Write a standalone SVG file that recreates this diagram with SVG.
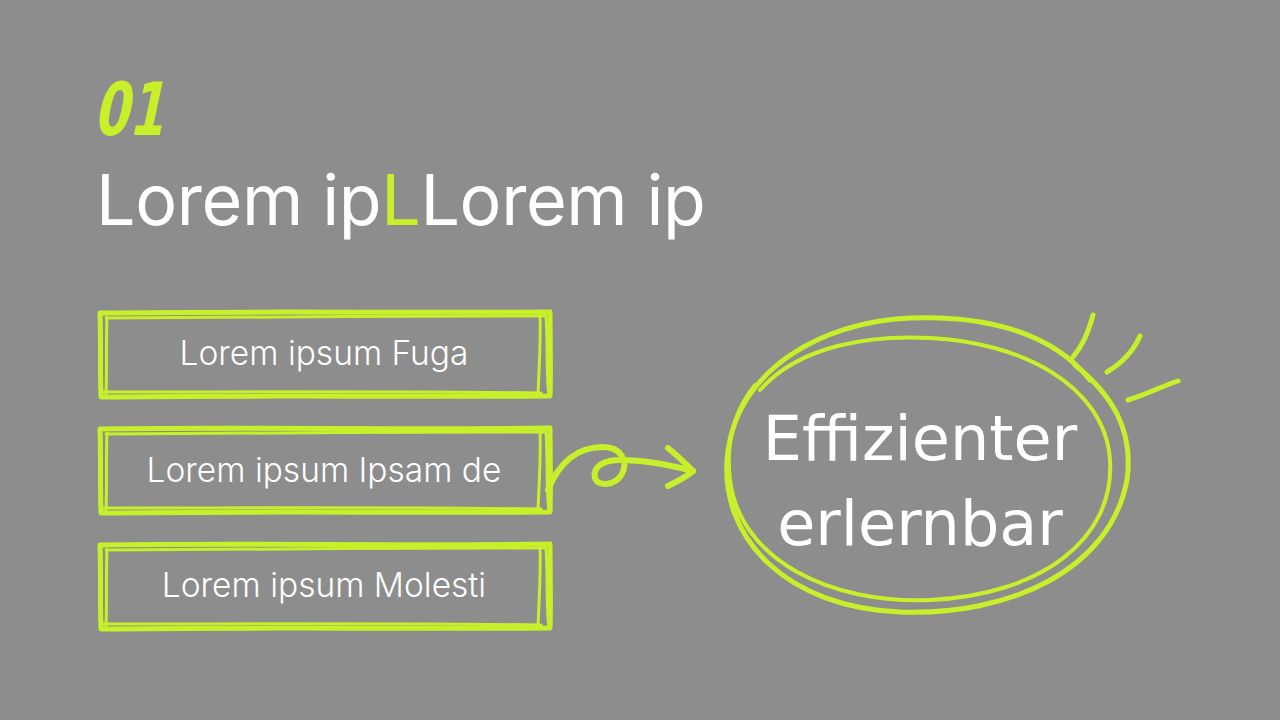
<svg xmlns="http://www.w3.org/2000/svg" width="1280" height="720" viewBox="0 0 1280 720">
<style>
.sk{fill:none;stroke:#c8f02a;stroke-linecap:round;stroke-linejoin:round}
.bx{font-family:Inter,"Liberation Sans",sans-serif;font-weight:300;font-size:33.5px;fill:#ffffff;text-anchor:middle}
.ct{font-family:"DejaVu Sans","Liberation Sans",sans-serif;font-size:62px;fill:#ffffff;text-anchor:middle}
</style>
<rect width="1280" height="720" fill="#8d8d8d"/>
<g id="header">
<text x="0" y="0" transform="translate(93,135) skewX(-12) scale(0.72,1.05)" font-family="'DejaVu Sans',sans-serif" font-weight="bold" font-size="70" fill="#c8f02a">01</text>
<text x="96" y="225" font-family="Inter,'Liberation Sans',sans-serif" font-size="70" letter-spacing="-0.4" fill="#ffffff">Lorem ip<tspan fill="#c8f02a">L</tspan>Lorem ip</text>
</g>
<g id="box1">
<path class="sk" stroke-width="5" d="M100,313 C250,311 400,313 550,312 C550,340 551,370 550,396 C400,397 250,395 101,397 C100,370 101,340 100,313 Z"/>
<path class="sk" stroke-width="3" d="M106,318 C250,316 400,317 545,316 M540,314 C541,340 539,370 538,394 M104,392 C250,392 400,391 541,393 M107,317 C106,340 107,370 106,394 M546,316 C548,345 546,375 549,395"/>
<text class="bx" x="324" y="365">Lorem ipsum Fuga</text>
</g>
<g id="box2">
<path class="sk" stroke-width="5" d="M100,429 C250,427 400,430 550,428 C550,456 551,486 550,512 C400,513 250,511 101,513 C100,486 101,456 100,429 Z"/>
<path class="sk" stroke-width="3" d="M106,434 C250,432 400,433 545,432 M540,430 C541,456 539,486 538,510 M104,508 C250,508 400,507 541,509 M107,433 C106,456 107,486 106,510 M546,432 C548,461 546,491 549,511"/>
<text class="bx" x="324" y="482">Lorem ipsum Ipsam de</text>
</g>
<g id="box3">
<path class="sk" stroke-width="5" d="M100,545 C250,543 400,546 550,544 C550,572 551,602 550,628 C400,629 250,627 101,629 C100,602 101,572 100,545 Z"/>
<path class="sk" stroke-width="3" d="M106,550 C250,548 400,549 545,548 M540,546 C541,572 539,602 538,626 M104,624 C250,624 400,623 541,625 M107,549 C106,572 107,602 106,626 M546,548 C548,577 546,607 549,627"/>
<text class="bx" x="324" y="597">Lorem ipsum Molesti</text>
</g>
<g id="circle">
<path class="sk" stroke-width="5" d="M1090,380 C1050,330 980,315 910,318 C820,322 740,370 728,450 C716,540 790,608 900,612 C1010,616 1110,570 1127,480 C1134,430 1112,395 1075,365"/>
<path class="sk" stroke-width="4" d="M760,390 C800,345 870,335 930,338 C1020,342 1105,385 1110,460 C1115,540 1040,595 930,600 C830,604 740,560 730,480 C725,440 735,410 755,385"/>
<text class="ct" x="920" y="460">Effizienter</text>
<text class="ct" x="920" y="545">erlernbar</text>
</g>
<g id="rays">
<path class="sk" stroke-width="5" d="M1093,315 C1088,333 1083,345 1073,357"/>
<path class="sk" stroke-width="5" d="M1140,336 C1133,352 1122,363 1107,372"/>
<path class="sk" stroke-width="5" d="M1178,381 C1160,387 1145,395 1128,400"/>
</g>
<g id="connectors">
<path class="sk" stroke-width="6" d="M548,490 C560,460 580,447 603,447 C622,447 628,462 622,474 C615,486 598,487 595,478 C592,466 605,460 620,460 C645,460 670,465 693,471"/>
<path class="sk" stroke-width="6" d="M668,448 C678,456 686,464 693,471 C685,478 676,482 668,486"/>
</g>
</svg>
